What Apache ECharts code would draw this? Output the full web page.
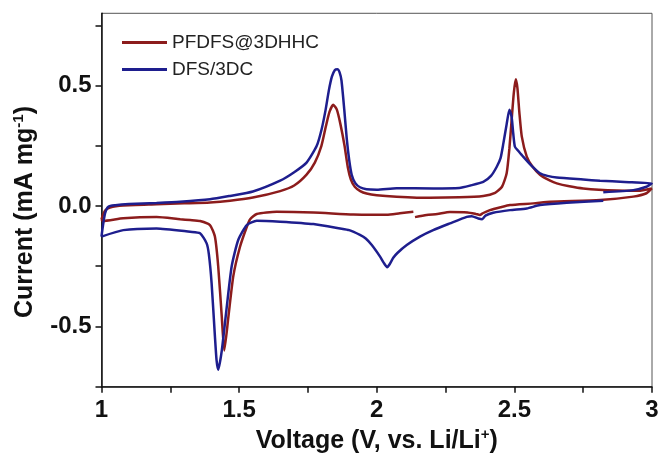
<!DOCTYPE html>
<html>
<head>
<meta charset="utf-8">
<script src="https://cdn.jsdelivr.net/npm/echarts@6/dist/echarts.min.js"></script>
<style>
html,body{margin:0;padding:0;background:#fff;}
#c{width:663px;height:454px;}
</style>
</head>
<body>
<div id="c"></div>
<script>
// ---- data (V vs. Li/Li+, mA mg-1); null marks a gap in the recorded trace ----
const seriesNames = ['PFDFS@3DHHC', 'DFS/3DC'];
const xTicks = [1, 1.5, 2, 2.5, 3];
const yTicks = [-0.5, 0.0, 0.5];

const redV = [1.000,1.004,1.013,1.031,1.079,1.2,1.3,1.394,1.467,1.55,1.649,1.70,1.745,1.775,1.799,1.815,1.828,1.842,1.855,1.868,1.883,1.895,1.906,1.92,1.94,1.963,2.0,2.072,2.193,2.3,2.387,2.43,2.455,2.472,2.482,2.49,2.498,2.505,2.511,2.518,2.527,2.545,2.565,2.593,2.63,2.654,2.7,2.75,2.872,2.95,2.999,
  2.98,2.932,2.811,2.63,2.569,2.484,2.45,2.411,2.385,2.375,2.36,2.33,2.266,2.22,2.181,2.139,null,2.133,2.084,2.036,1.915,1.77,1.636,1.564,1.54,1.528,1.503,1.479,1.461,1.446,1.437,1.424,1.412,1.394,1.358,1.322,1.286,1.2,1.079,1.004,1.0];
const redI = [-0.055,-0.041,-0.019,-0.006,0.002,0.007,0.011,0.015,0.022,0.035,0.062,0.085,0.13,0.18,0.25,0.33,0.39,0.42,0.40,0.34,0.25,0.16,0.11,0.08,0.062,0.052,0.045,0.039,0.034,0.036,0.042,0.055,0.08,0.136,0.24,0.357,0.47,0.526,0.49,0.39,0.288,0.205,0.165,0.13,0.105,0.094,0.082,0.073,0.064,0.063,0.073,
  0.053,0.039,0.025,0.018,0.011,0.004,-0.005,-0.017,-0.03,-0.037,-0.033,-0.027,-0.025,-0.033,-0.037,-0.046,null,-0.024,-0.03,-0.036,-0.035,-0.027,-0.024,-0.033,-0.055,-0.086,-0.17,-0.29,-0.46,-0.6,-0.46,-0.25,-0.127,-0.079,-0.062,-0.058,-0.055,-0.046,-0.051,-0.062,-0.055];

const blueV = [1.0,1.004,1.013,1.025,1.05,1.1,1.2,1.285,1.394,1.467,1.55,1.649,1.70,1.745,1.782,1.80,1.814,1.826,1.837,1.848,1.857,1.865,1.872,1.882,1.891,1.90,1.909,1.922,1.939,1.963,2.0,2.072,2.205,2.3,2.34,2.387,2.415,2.436,2.45,2.46,2.472,2.482,2.49,2.496,2.502,2.515,2.532,2.56,2.593,2.62,2.654,2.75,2.811,2.9,2.999,
  2.98,2.932,2.823,null,2.823,2.69,2.593,2.545,2.484,2.423,2.395,2.383,2.369,2.345,2.327,2.266,2.205,2.157,2.109,2.075,2.06,2.045,2.038,2.025,2.012,1.982,1.96,1.939,1.9,1.867,1.77,1.649,1.564,1.528,1.497,1.473,1.455,1.437,1.424,1.418,1.412,1.40,1.39,1.382,1.358,1.322,1.2,1.079,1.0];
const blueI = [-0.127,-0.092,-0.03,-0.003,0.003,0.008,0.013,0.018,0.028,0.042,0.06,0.105,0.14,0.18,0.25,0.32,0.398,0.48,0.537,0.565,0.568,0.555,0.52,0.40,0.28,0.19,0.13,0.095,0.078,0.07,0.068,0.074,0.073,0.075,0.085,0.1,0.125,0.163,0.2,0.26,0.34,0.40,0.37,0.30,0.246,0.228,0.205,0.17,0.136,0.125,0.118,0.11,0.105,0.1,0.094,
  0.08,0.066,0.057,null,0.022,0.014,0.004,-0.01,-0.017,-0.028,-0.04,-0.055,-0.052,-0.042,-0.045,-0.072,-0.1,-0.127,-0.162,-0.195,-0.215,-0.245,-0.254,-0.235,-0.21,-0.162,-0.135,-0.12,-0.1,-0.093,-0.075,-0.065,-0.061,-0.079,-0.14,-0.25,-0.42,-0.6,-0.68,-0.64,-0.54,-0.32,-0.2,-0.155,-0.113,-0.107,-0.093,-0.1,-0.127];

function pairs(xs, ys){
  return xs.map((x,i)=> (x===null||ys[i]===null) ? ['-','-'] : [x, ys[i]]);
}

const FONT = '"Liberation Sans", Arial, sans-serif';
const chart = echarts.init(document.getElementById('c'), null, {renderer:'canvas'});
chart.setOption({
  animation:false,
  backgroundColor:'#fff',
  grid:{left:101.5, right:11, top:13.3, bottom:67.3, containLabel:false, outerBoundsMode:'none',
    show:true, borderColor:'#555', borderWidth:1, backgroundColor:'transparent'},
  legend:{
    orient:'vertical', left:122, top:33, padding:0, itemWidth:45, itemHeight:3, itemGap:8,
    icon:'rect',
    textStyle:{fontFamily:FONT, fontSize:19, color:'#222'},
    data:seriesNames
  },
  xAxis:{
    type:'value', min:1, max:3, interval:0.25,
    name:'Voltage (V, vs. Li/Li{sup|+})', nameLocation:'middle', nameGap:37,
    nameTextStyle:{fontFamily:FONT, fontSize:25, fontWeight:'bold', color:'#111',
      rich:{sup:{fontFamily:FONT, fontSize:15, fontWeight:'bold', color:'#111', verticalAlign:'top', padding:[0,0,12,0]}}},
    axisLine:{show:true, onZero:false, lineStyle:{color:'#111', width:1.5}},
    axisTick:{show:true, inside:false, length:6, lineStyle:{color:'#111', width:1.5}},
    axisLabel:{fontFamily:FONT, fontSize:24, fontWeight:'bold', color:'#111', margin:12,
      formatter:v => xTicks.some(t=>Math.abs(t-v)<1e-9) ? String(v) : ''},
    splitLine:{show:false}
  },
  yAxis:{
    type:'value', min:-0.75, max:0.8, interval:0.25,
    name:'Current (mA mg{sup|-1})', nameLocation:'middle', nameGap:63, nameRotate:90,
    nameTextStyle:{fontFamily:FONT, fontSize:25, fontWeight:'bold', color:'#111', padding:[0,24,0,0],
      rich:{sup:{fontFamily:FONT, fontSize:15, fontWeight:'bold', color:'#111', verticalAlign:'top', padding:[0,0,12,0]}}},
    axisLine:{show:true, onZero:false, lineStyle:{color:'#111', width:1.5}},
    axisTick:{show:true, inside:false, length:6, lineStyle:{color:'#111', width:1.5}},
    axisLabel:{fontFamily:FONT, fontSize:24, fontWeight:'bold', color:'#111', margin:10, showMaxLabel:false,
      formatter:v => yTicks.some(t=>Math.abs(t-v)<1e-9) ? v.toFixed(1) : ''},
    splitLine:{show:false}
  },
  series:[
    {name:seriesNames[0], type:'line', data:pairs(redV, redI), showSymbol:false, symbol:'none', connectNulls:false,
      smooth:0.2, color:'#8c1c1c', lineStyle:{color:'#8c1c1c', width:2.5}, z:2},
    {name:seriesNames[1], type:'line', data:pairs(blueV, blueI), showSymbol:false, symbol:'none', connectNulls:false,
      smooth:0.2, color:'#1e1e8e', lineStyle:{color:'#1e1e8e', width:2.5}, z:3}
  ]
});
</script>
</body>
</html>
